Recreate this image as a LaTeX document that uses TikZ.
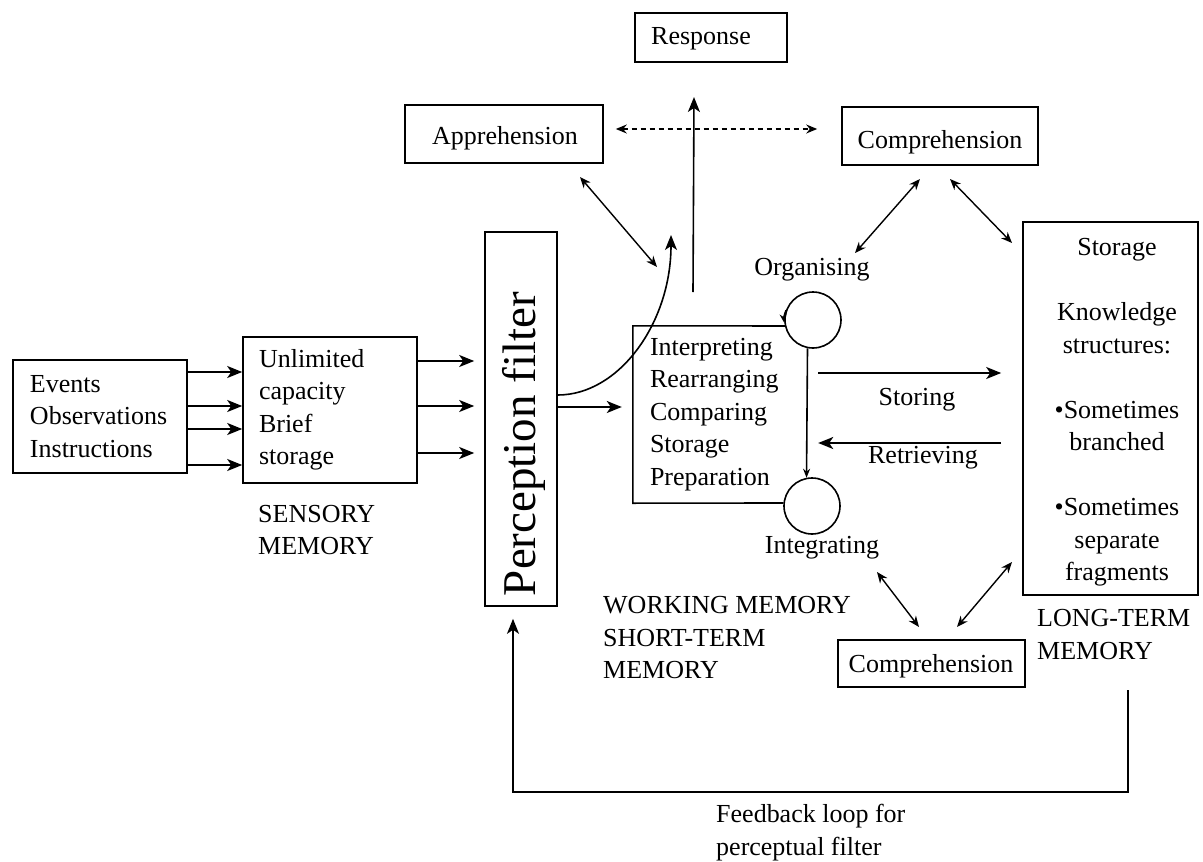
\documentclass[tikz,border=0pt]{standalone}
\usepackage{fontspec}
\setmainfont{Liberation Serif}
\usetikzlibrary{arrows.meta,calc}
\begin{document}
\begin{tikzpicture}[x=1pt,y=-1pt,
  every node/.style={font=\fontsize{26}{32.5}\selectfont, inner sep=0pt},
  box/.style={draw, line width=1.6pt},
  arr/.style={line width=1.6pt, -{Stealth[length=15pt,width=12pt,inset=4pt]}},
  darr/.style={line width=1.4pt, {Stealth[length=11pt,width=9pt]}-{Stealth[length=11pt,width=9pt]}},
  lbl/.style={align=left, anchor=west},
  ring/.style={draw, circle, line width=1.6pt, minimum size=56pt}
]
\useasboundingbox (0,0) rectangle (1203,862);

% ---- boxes ----
\node[box, minimum width=174pt, minimum height=113pt, text width=140pt, align=left] (ev) at (100,416.5) {Events\\Observations\\Instructions};
\node[box, minimum width=174pt, minimum height=146pt, text width=142pt, align=left] (sens) at (330,410) {Unlimited\\capacity\\Brief\\storage};
\node[lbl] (senslbl) at (258,530) {SENSORY\\MEMORY};

\node[box, minimum width=72pt, minimum height=374pt] (pf) at (521,419) {};
\node[rotate=90, font=\fontsize{47}{47}\selectfont] (pftext) at (524,444) {Perception filter};

\node[box, minimum width=152pt, minimum height=49pt] (resp) at (711,37.5) {};
\node (resptext) at (701,39) {Response};
\node[box, minimum width=198pt, minimum height=58pt] (app) at (504,134) {};
\node (apptext) at (505,138) {Apprehension};
\node[box, minimum width=196pt, minimum height=58pt] (comp) at (940,136) {};
\node (comptext) at (940,142.5) {Comprehension};

\node[minimum width=174pt, minimum height=177pt, text width=140pt, align=left] (wm) at (720,414.5) {Interpreting\\Rearranging\\Comparing\\Storage\\Preparation};
\node[ring] (org) at (813,320) {};
\node[ring] (integ) at (812,506) {};
\node (orglbl) at (812,270) {Organising};
\node (intlbl) at (822,548) {Integrating};
\node[lbl] (wmlbl) at (603,638) {WORKING MEMORY\\SHORT-TERM\\MEMORY};

\node[box, minimum width=175pt, minimum height=373pt] (ltm) at (1110.5,408.5) {};
\node[align=center] (ltmtext) at (1117,412.5) {Storage\\[32.5pt]Knowledge\\structures:\\[32.5pt]\textbullet Sometimes\\branched\\[32.5pt]\textbullet Sometimes\\separate\\fragments};
\node[lbl] (ltmlbl) at (1037,634.5) {LONG-TERM\\MEMORY};

\node[box, minimum width=187pt, minimum height=47pt] (comp2) at (931.5,663.5) {};
\node (comp2text) at (931,666) {Comprehension};

\node (stlbl) at (917,400) {Storing};
\node (retlbl) at (923,458) {Retrieving};
\node[lbl] (fblbl) at (716,832.5) {Feedback loop for\\perceptual filter};

% ---- connectors ----
\foreach \yy in {372,406,429,465}
  \draw[arr] (ev.east |- 0,\yy) -- (sens.west |- 0,\yy);
\foreach \yy in {361,406,453}
  \draw[arr, shorten >=10pt] (sens.east |- 0,\yy) -- (pf.west |- 0,\yy);

\draw[arr, shorten >=11pt] (pf.east |- 0,407) -- (wm.west |- 0,407);

\coordinate (curvetip) at (671,235);
\draw[arr] (pf.east |- 0,395) .. controls (619,395) and (671,323) .. (curvetip);

\coordinate (respbase) at (693,292);
\coordinate (resptip) at (694,97);
\draw[arr] (respbase) -- (resptip);

\draw[darr, dash pattern=on 5pt off 4pt, shorten <=12pt, shorten >=24pt] (app.east |- 0,129) -- (comp.west |- 0,129);

\coordinate (a1) at (580,177); \coordinate (a2) at (657,267);
\draw[darr] (a1) -- (a2);
\coordinate (c1) at (920,179); \coordinate (c2) at (855,253);
\draw[darr] (c1) -- (c2);
\coordinate (c3) at (950,179); \coordinate (c4) at (1012,243);
\draw[darr] (c3) -- (c4);
\coordinate (b1) at (877,572); \coordinate (b2) at (919,627);
\draw[darr] (b1) -- (b2);
\coordinate (b3) at (957,627); \coordinate (b4) at (1012,562);
\draw[darr] (b3) -- (b4);

% working memory frame
\draw[line width=1.6pt] (org.192) -- (wm.north west) -- (wm.south west) -- (integ.174);
\draw[line width=1.3pt, -{Stealth[length=9pt,width=7pt]}] (org.160) to[bend right=15] (org.186);
\draw[line width=1.6pt, -{Stealth[length=9pt,width=7pt]}] (org.259) -- (integ.101);

\draw[arr, shorten <=11pt, shorten >=21pt] (wm.east |- 0,373) -- (ltm.west |- 0,373);
\draw[arr, shorten <=21pt, shorten >=11pt] (ltm.west |- 0,443) -- (wm.east |- 0,443);

% feedback loop
\coordinate (fbstart) at (1128,690);
\draw[arr, shorten >=12pt] (fbstart) -- (1128,792) -- (513,792) -- (pf.south -| 513,0);
\end{tikzpicture}
\end{document}
